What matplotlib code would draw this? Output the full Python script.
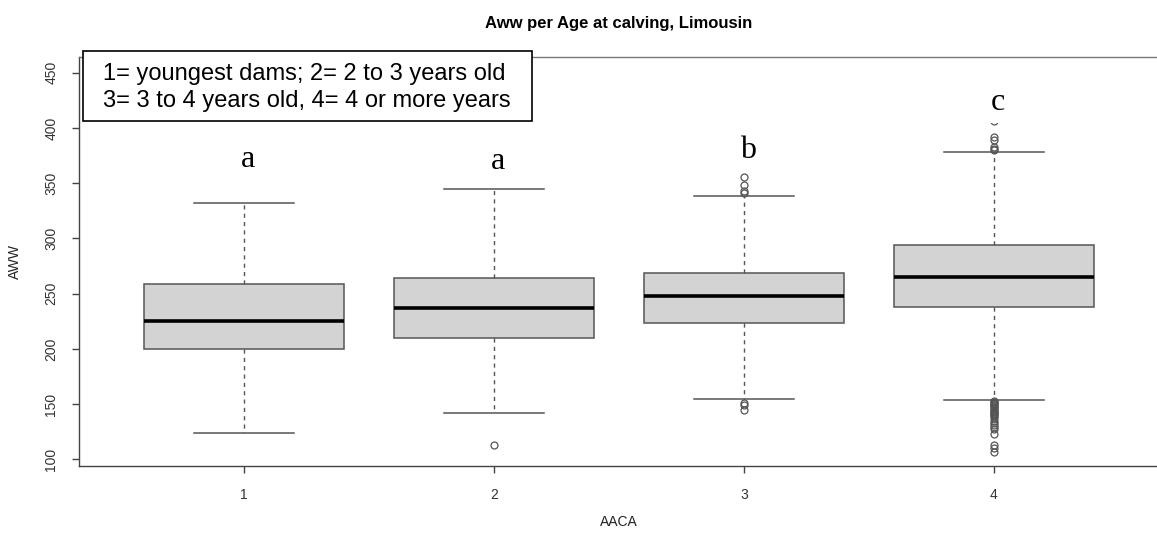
import matplotlib
matplotlib.use('Agg')
import matplotlib.pyplot as plt
import matplotlib.patches as patches

# summary stats (AWW by AACA class)
groups = ['1', '2', '3', '4']
q1 = [199.5, 210, 223, 238]
med = [225, 237, 248, 265]
q3 = [259, 264, 269, 294]
whislo = [124, 142, 155, 154]
whishi = [332, 345, 338, 378]
fliers = [
    [],
    [113],
    [356, 348, 343, 341, 151, 149, 145],
    [406, 392, 389, 383, 381, 380,
     153, 152, 151, 150, 149, 148, 147, 146, 145, 144, 143, 142, 141, 140,
     139, 137, 135, 133, 131, 129, 127, 123, 113, 110, 107],
]
letters = ['a', 'a', 'b', 'c']
letter_y = [364.8, 363.3, 372.4, 416.1]
legend_lines = ['1= youngest dams; 2= 2 to 3 years old',
                '3= 3 to 4 years old, 4= 4 or more years']

plt.rcParams['font.family'] = ['Liberation Sans', 'DejaVu Sans']

W, H = 1157, 536
fig = plt.figure(figsize=(W / 100, H / 100), dpi=100)
ax = fig.add_axes([79 / W, 70.3 / H, 1080 / W, 408.7 / H])

stats = []
for g, a, m, b, lo, hi, fl in zip(groups, q1, med, q3, whislo, whishi, fliers):
    stats.append(dict(label=g, q1=a, med=m, q3=b, whislo=lo, whishi=hi, fliers=fl))

edge = '#555555'
ax.bxp(stats, positions=range(1, len(groups) + 1), widths=0.8, capwidths=0.4,
       patch_artist=True,
       boxprops=dict(facecolor='#d3d3d3', edgecolor=edge, linewidth=1.1),
       medianprops=dict(color='black', linewidth=2.6),
       whiskerprops=dict(color=edge, linewidth=1, linestyle=(0, (3, 3))),
       capprops=dict(color=edge, linewidth=1.1),
       flierprops=dict(marker='o', markerfacecolor='none', markeredgecolor='#555555',
                       markersize=5, markeredgewidth=0.9))

ax.set_xlim(0.34, 4.66)
ax.set_ylim(94.2, 464.3)
ax.set_yticks(range(100, 451, 50))
ax.set_yticklabels([str(v) for v in range(100, 451, 50)], rotation=90, va='center')
ax.tick_params(axis='both', length=5, width=1, color='#444444', labelsize=10,
               labelcolor='#333333', pad=10)
ax.tick_params(axis='x', pad=11)
for s in ax.spines.values():
    s.set_color('#444444')
    s.set_linewidth(1)
ax.spines['top'].set_color('#777777')

ax.set_xlabel('AACA', fontsize=10, color='#222222')
ax.xaxis.set_label_coords(0.5, -0.121)
ax.set_ylabel('AWW', fontsize=10, color='#222222')
ax.yaxis.set_label_coords(-0.0528, 0.5)
ax.set_title('Aww per Age at calving, Limousin', fontsize=12, fontweight='bold', pad=21)

# significance letters (pasted over the plot, white background)
for i, (lt, ly) in enumerate(zip(letters, letter_y)):
    ax.text(i + 1.016, ly, lt, ha='center', va='baseline', fontsize=23,
            family=['Liberation Serif', 'DejaVu Serif'], zorder=5,
            bbox=dict(facecolor='white', edgecolor='none', pad=4))

# boxed note in the upper left
rect = patches.Rectangle((83 / W, 1 - 121 / H), 449 / W, 70 / H, transform=fig.transFigure,
                         facecolor='white', edgecolor='black', linewidth=1.2, zorder=5)
fig.add_artist(rect)
fig.text(102.7 / W, 1 - 87.5 / H, '\n'.join(legend_lines), ha='left', va='center',
         fontsize=17, linespacing=1.25, zorder=6)

fig.savefig('out.png', dpi=100)
